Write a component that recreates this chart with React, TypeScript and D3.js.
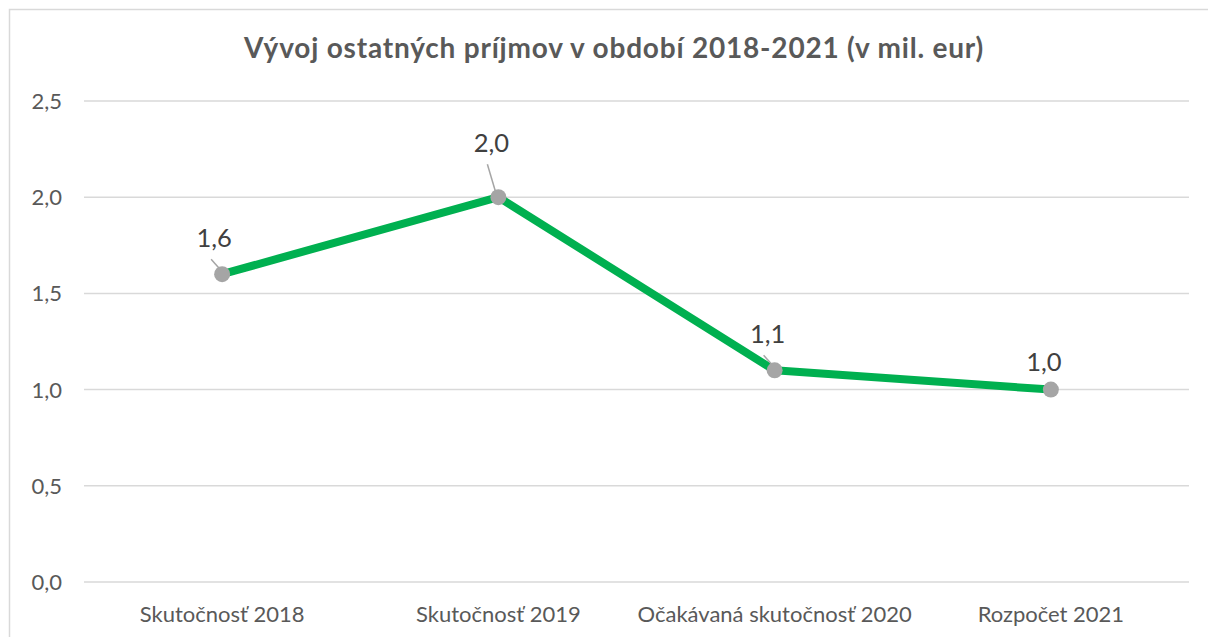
import React from "react";
import * as d3 from "d3";

const categories = ["Skutočnosť 2018", "Skutočnosť 2019", "Očakávaná skutočnosť 2020", "Rozpočet 2021"];
const values = [1.6, 2.0, 1.1, 1.0];
const yTicks = [0, 0.5, 1.0, 1.5, 2.0, 2.5];
const title = "Vývoj ostatných príjmov v období 2018-2021 (v mil. eur)";
// label offsets (px) from the data point: [dx, dy]
const labelOffsets: [number, number][] = [[-8, -27], [-7, -45], [-7, -27], [-7, -19]];

const W = 1208;
const H = 637;
const FONT = "Lato, 'Open Sans', sans-serif";

export default function App() {
  const x = d3.scaleBand<string>().domain(categories).range([84, 1189]);
  const y = d3.scaleLinear().domain([0, 2.5]).range([582, 101]);
  const fmt = (v: number) => d3.format(".1f")(v).replace(".", ",");
  const cx = (c: string) => (x(c) ?? 0) + x.bandwidth() / 2;

  const line = d3
    .line<number>()
    .x((_, i) => cx(categories[i]))
    .y((d) => y(d));

  return (
    <svg width={W} height={H} style={{ position: "absolute", left: 0, top: 0, background: "#fff" }}>
      <rect x={9.5} y={9.5} width={W + 20} height={H + 20} fill="#fff" stroke="#d9d9d9" strokeWidth={1.5} />
      <text x={614} y={58} textAnchor="middle" fontFamily={FONT} fontWeight={700} fontSize={28} letterSpacing={0.8} fill="#595959">
        {title}
      </text>
      {yTicks.map((t) => (
        <g key={t}>
          <line x1={84} x2={1189} y1={y(t)} y2={y(t)} stroke="#d9d9d9" strokeWidth={1.5} />
          <text x={62} y={y(t) + 8} textAnchor="end" fontFamily={FONT} fontSize={22} fill="#595959">
            {fmt(t)}
          </text>
        </g>
      ))}
      {categories.map((c) => (
        <text key={c} x={cx(c)} y={622} textAnchor="middle" fontFamily={FONT} fontSize={22} fill="#595959">
          {c}
        </text>
      ))}
      <path d={line(values) ?? ""} fill="none" stroke="#00b050" strokeWidth={8} strokeLinejoin="round" strokeLinecap="round" />
      {values.map((v, i) => {
        const px = cx(categories[i]);
        const py = y(v);
        const ly = py + labelOffsets[i][1];
        return (
          <g key={i}>
            {py - ly > 22 && (
              <line x1={px - 11} y1={ly + 12} x2={px - 3} y2={py - 6} stroke="#a5a5a5" strokeWidth={1.5} />
            )}
            <circle cx={px} cy={py} r={8} fill="#a5a5a5" />
          </g>
        );
      })}
      {values.map((v, i) => {
        const px = cx(categories[i]);
        const py = y(v);
        return (
          <text
            key={"l" + i}
            x={px + labelOffsets[i][0]}
            y={py + labelOffsets[i][1]}
            textAnchor="middle"
            fontFamily={FONT}
            fontSize={25.5}
            fill="#404040"
          >
            {fmt(v)}
          </text>
        );
      })}
    </svg>
  );
}
